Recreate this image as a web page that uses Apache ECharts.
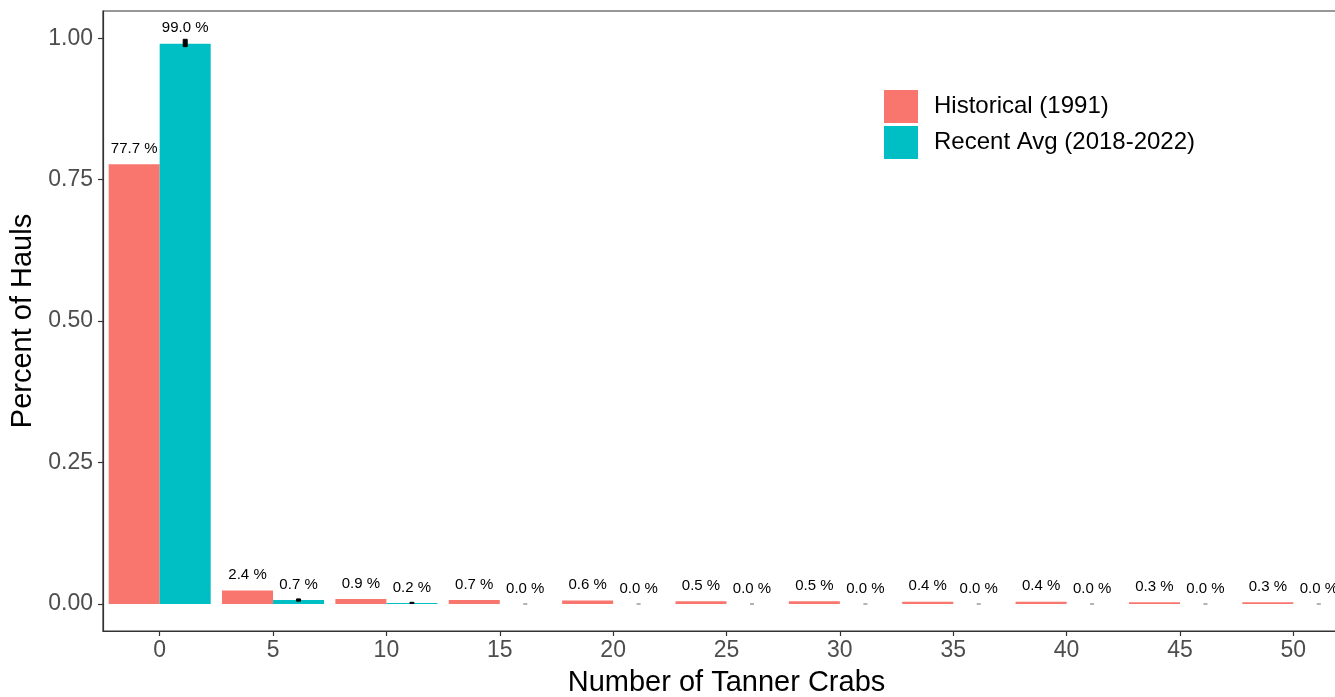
<!DOCTYPE html>
<html>
<head>
<meta charset="utf-8">
<script src="https://cdn.jsdelivr.net/npm/echarts@6/dist/echarts.min.js"></script>
<style>
html,body{margin:0;padding:0;background:#fff;overflow:hidden;}
#chart{width:1335px;height:697px;}
</style>
</head>
<body>
<div id="chart"></div>
<script>
const categories = ['0','5','10','15','20','25','30','35','40','45','50'];
const historical = [0.777, 0.024, 0.009, 0.007, 0.006, 0.005, 0.005, 0.004, 0.004, 0.003, 0.003];
const recent = [0.990, 0.007, 0.002, 0.000, 0.000, 0.000, 0.000, 0.000, 0.000, 0.000, 0.000];
const recentLow = [0.985, 0.005, 0.001, 0, 0, 0, 0, 0, 0, 0, 0];
const recentHigh = [0.998, 0.009, 0.003, 0, 0, 0, 0, 0, 0, 0, 0];
const yTicks = [0, 0.25, 0.5, 0.75, 1.0];
const seriesNames = ['Historical (1991)', 'Recent Avg (2018-2022)'];

const FONT = 'Liberation Sans, Arial, sans-serif';
const chart = echarts.init(document.getElementById('chart'), null, {renderer: 'canvas'});

const errData = recent.map((v, i) => [i, recentLow[i], recentHigh[i]]);
const labelFmt = p => (p.value * 100).toFixed(1) + ' %';

const option = {
  animation: false,
  backgroundColor: '#fff',
  textStyle: {fontFamily: FONT},
  grid: {left: 103, top: 11, height: 620, width: 1247, outerBoundsMode: 'none', containLabel: false,
    show: true, borderColor: '#333', borderWidth: 1.2, backgroundColor: 'transparent'},
  legend: {
    orient: 'vertical', left: 884, top: 90, padding: 0,
    itemWidth: 34, itemHeight: 33, itemGap: 3, icon: 'rect',
    textStyle: {fontSize: 24, color: '#000', fontFamily: FONT, padding: [10, 0, 0, 11]},
    data: seriesNames
  },
  xAxis: {
    type: 'category', data: categories,
    name: 'Number of Tanner Crabs', nameLocation: 'middle', nameGap: 37,
    nameTextStyle: {fontSize: 29, color: '#000', fontFamily: FONT},
    axisLine: {show: true, onZero: false, lineStyle: {color: '#333', width: 1.2}},
    axisTick: {show: true, alignWithLabel: true, length: 5, lineStyle: {color: '#333', width: 1.2}},
    axisLabel: {fontSize: 23, color: '#4d4d4d', margin: 8, fontFamily: FONT},
    splitLine: {show: false}
  },
  yAxis: {
    type: 'value', min: -0.0477, max: 1.048,
    name: 'Percent of Hauls', nameLocation: 'middle', nameGap: 62,
    nameTextStyle: {fontSize: 29, color: '#000', fontFamily: FONT},
    axisLine: {show: true, lineStyle: {color: '#333', width: 1.2}},
    axisTick: {show: true, length: 5, customValues: yTicks, lineStyle: {color: '#333', width: 1.2}},
    axisLabel: {fontSize: 23, color: '#4d4d4d', margin: 10, fontFamily: FONT, customValues: yTicks,
      formatter: v => Number(v).toFixed(2)},
    splitLine: {show: false}
  },
  series: [
    {
      name: seriesNames[0], type: 'bar', data: historical,
      barGap: '0%', barCategoryGap: '10%',
      itemStyle: {color: '#F8766D'},
      label: {show: true, position: 'top', distance: 8, fontSize: 15, color: '#000', fontFamily: FONT, formatter: labelFmt}
    },
    {
      name: seriesNames[1], type: 'bar', data: recent,
      barGap: '0%', barCategoryGap: '10%',
      itemStyle: {color: '#00BFC4'},
      label: {show: true, position: 'top', distance: 8, fontSize: 15, color: '#000', fontFamily: FONT, formatter: labelFmt}
    },
    {
      name: 'err', type: 'custom', data: errData, z: 10,
      renderItem: function (params, api) {
        const idx = api.value(0);
        const lo = api.coord([idx, api.value(1)]);
        const hi = api.coord([idx, api.value(2)]);
        const band = api.size([1, 0])[0];
        const cx = lo[0] + band * 0.225;
        const w = 4;
        const h = lo[1] - hi[1];
        if (h < 0.5) {
          return {
            type: 'line',
            shape: {x1: cx - w / 2, y1: lo[1], x2: cx + w / 2, y2: lo[1]},
            style: {stroke: '#666', lineWidth: 1}
          };
        }
        return {
          type: 'rect',
          shape: {x: cx - w / 2, y: hi[1], width: w, height: h},
          style: {fill: '#000', stroke: '#000', lineWidth: 1}
        };
      }
    }
  ]
};
chart.setOption(option);
</script>
</body>
</html>
